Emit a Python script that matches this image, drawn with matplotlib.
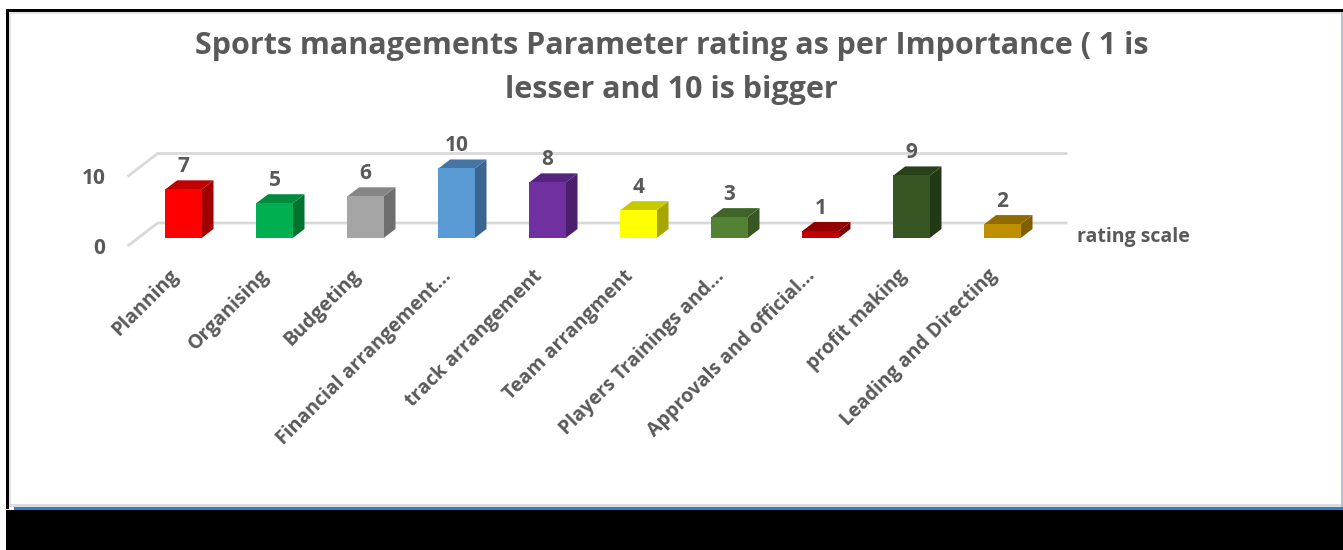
import matplotlib
matplotlib.use("Agg")
import matplotlib.pyplot as plt
from matplotlib.patches import Polygon, Rectangle

# ---- data -------------------------------------------------------------
categories = [
    "Planning", "Organising", "Budgeting", "Financial arrangement...",
    "track arrangement", "Team arrangment", "Players Trainings and...",
    "Approvals and official...", "profit making", "Leading and Directing",
]
ratings = [7, 5, 6, 10, 8, 4, 3, 1, 9, 2]
series_name = "rating scale"
y_ticks = [0, 10]
title = "Sports managements Parameter rating as per Importance ( 1 is\nlesser and 10 is bigger"

# front / top / side shades of each bar
front_colors = ["#FF0000", "#00B050", "#A5A5A5", "#5B9BD5", "#7030A0",
                "#FFFF00", "#548235", "#C00000", "#375623", "#BF8F00"]
top_colors = ["#C00000", "#008A3E", "#858585", "#4775A3", "#55257D",
              "#C8C800", "#3F6428", "#900000", "#29411A", "#8F6B00"]
side_colors = ["#A00000", "#00732F", "#6E6E6E", "#3A6590", "#4B1F6B",
               "#A6A600", "#375623", "#7A0000", "#233916", "#7F5F00"]

# ---- figure ------------------------------------------------------------
W, H, DPI = 1343, 550, 100
fig = plt.figure(figsize=(W / DPI, H / DPI), dpi=DPI, facecolor="white")
FONT = ["Open Sans", "DejaVu Sans"]
TXT = "#595959"


def px_rect(x0, y0, x1, y1, color):
    fig.add_artist(Rectangle((x0 / W, 1 - y1 / H), (x1 - x0) / W, (y1 - y0) / H,
                             transform=fig.transFigure, facecolor=color,
                             edgecolor="none", zorder=0))


# window frame around the chart
px_rect(6, 9, W, 12, "black")
px_rect(6, 9, 9, 509, "black")
px_rect(9, 12, W - 2, 14, "#E4E4E4")
px_rect(9, 12, 11, 506, "#E4E4E4")
px_rect(W - 2, 12, W, 507, "#B7C3CF")
px_rect(9, 504, W - 2, 507, "#DCDCDC")
px_rect(14, 507, W, 509.5, "#2F7FCC")
px_rect(6, 509.5, W, H, "black")

# ---- plotting area: category / value scales ----------------------------
cat_px, cat0_px = 91.0, 173.1       # pixels per category, x of category 0
unit_px, zero_px = 6.95, 246.0      # pixels per rating unit, y of 0
box = (100, 110, 1100, 330)         # left, top, right, bottom in pixels
ax = fig.add_axes([box[0] / W, 1 - box[3] / H,
                   (box[2] - box[0]) / W, (box[3] - box[1]) / H])
ax.set_xlim((box[0] - cat0_px) / cat_px, (box[2] - cat0_px) / cat_px)
ax.set_ylim((zero_px - box[3]) / unit_px, (zero_px - box[1]) / unit_px)
ax.axis("off")

# depth of the 3-D floor and position of the bars inside it
DX, DY = 30 / cat_px, 23 / unit_px
D0, D1 = 0.35, 0.74
BW = 0.40
n = len(categories)
x_left, x_right = -0.5, n - 0.5

# gridlines: left-hand diagonal + back wall line
for t in y_ticks:
    ax.plot([x_left, x_left + DX, x_right + DX], [t, t + DY, t + DY],
            color="#D9D9D9", lw=2.0, solid_capstyle="butt", zorder=1)
    ax.text(x_left - 22 / cat_px, t - 0.3, str(t), ha="right", va="center",
            fontsize=15, fontweight="bold", color=TXT, family=FONT)

# 3-D bars
ddx, ddy = (D1 - D0) * DX, (D1 - D0) * DY
for i, v in enumerate(ratings):
    xl = i - BW / 2 + D0 * DX
    xr = i + BW / 2 + D0 * DX
    yb = D0 * DY
    yt = v + D0 * DY
    ax.add_patch(Polygon([(xr, yb), (xr + ddx, yb + ddy), (xr + ddx, yt + ddy), (xr, yt)],
                         closed=True, facecolor=side_colors[i], edgecolor="none", zorder=3))
    ax.add_patch(Polygon([(xl, yt), (xr, yt), (xr + ddx, yt + ddy), (xl + ddx, yt + ddy)],
                         closed=True, facecolor=top_colors[i], edgecolor="none", zorder=3))
    ax.add_patch(Rectangle((xl, yb), xr - xl, yt - yb, facecolor=front_colors[i],
                           edgecolor="none", zorder=4))
    ax.text((xl + xr) / 2, yt + 17 / unit_px, str(v), ha="center", va="baseline",
            fontsize=15, fontweight="bold", color=TXT, family=FONT, zorder=5)
    ax.text(i + D0 * DX - 8 / cat_px, -27 / unit_px, categories[i], rotation=45,
            rotation_mode="anchor", ha="right", va="center", fontsize=14,
            fontweight="bold", color=TXT, family=FONT)

# series name at the end of the floor
ax.text(x_right + DX + 9 / cat_px, 1.3, series_name, ha="left", va="center",
        fontsize=14, fontweight="bold", color=TXT, family=FONT)

fig.text(0.5, 1 - 68 / H, title, ha="center", va="center", fontsize=22,
         fontweight="bold", color=TXT, family=FONT, linespacing=1.57)

fig.savefig("out.png", dpi=DPI, facecolor="white")
